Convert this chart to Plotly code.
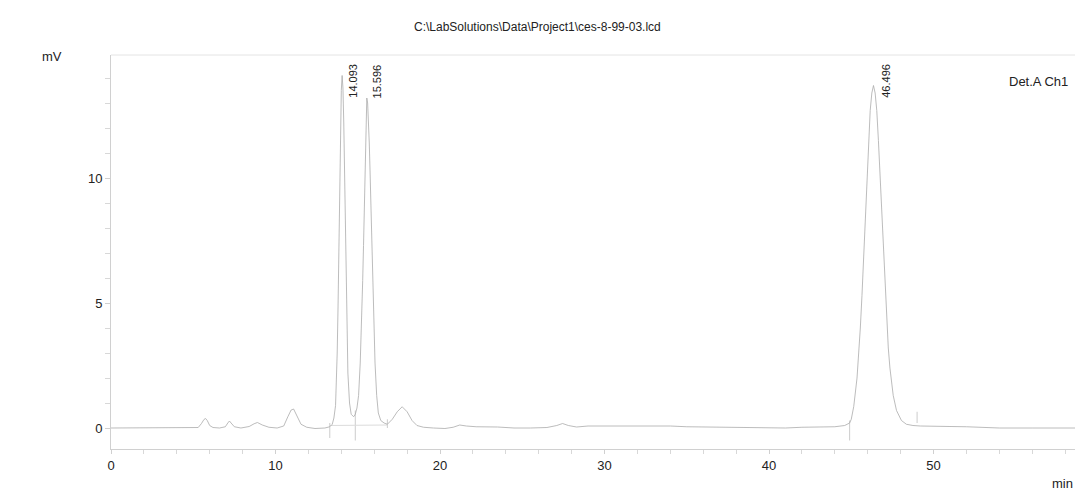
import plotly.graph_objects as go

# chromatogram trace (time in min, signal in mV)
time_min = [
    0.0, 2.0, 4.0, 5.3, 5.5, 5.65, 5.75, 5.85, 6.0, 6.2, 6.6, 6.95, 7.1, 7.2, 7.3, 7.5, 7.9,
    8.4, 8.7, 8.9, 9.2, 9.6, 10.1, 10.5, 10.75, 10.95, 11.1, 11.3, 11.55, 11.9, 12.4, 13.0,
    13.3, 13.45, 13.55, 13.65, 13.7, 13.75, 13.8, 13.85, 13.9, 13.95, 14.0, 14.05, 14.1,
    14.15, 14.2, 14.25, 14.3, 14.35, 14.4, 14.5, 14.6, 14.75, 14.85,
    14.95, 15.05, 15.15, 15.2, 15.25, 15.3, 15.35, 15.4, 15.45, 15.5, 15.55, 15.6, 15.65,
    15.7, 15.75, 15.8, 15.85, 15.9, 15.95, 16.05, 16.15, 16.25, 16.4, 16.6, 16.8,
    17.1, 17.4, 17.7, 18.0, 18.3, 18.6, 19.0, 19.6, 20.3, 20.8, 21.2, 21.6, 22.2, 23.5,
    24.5, 25.5, 26.5, 27.1, 27.45, 27.8, 28.3, 29.0, 30.0, 31.0, 32.0, 33.0, 34.0, 35.0,
    36.0, 37.0, 38.0, 39.0, 40.0, 41.0, 42.0, 43.0, 44.0, 44.6, 44.9,
    45.0, 45.15, 45.35, 45.45, 45.55, 45.65, 45.75, 45.85, 45.95, 46.05, 46.15, 46.25,
    46.35, 46.45, 46.55, 46.65, 46.75, 46.85, 46.95, 47.05, 47.15, 47.25, 47.35, 47.55,
    47.75, 48.05, 48.35, 48.75, 49.2, 50.0, 51.0, 52.0, 53.0, 54.0, 56.0, 58.6,
]
signal_mv = [
    0.0, 0.0, 0.01, 0.02, 0.18, 0.34, 0.38, 0.3, 0.1, 0.02, 0.0, 0.05, 0.2, 0.28, 0.2, 0.05, 0.0,
    0.06, 0.17, 0.22, 0.12, 0.03, 0.0, 0.08, 0.45, 0.72, 0.76, 0.5, 0.15, 0.03, -0.02, 0.0,
    0.05, 0.15, 0.4, 0.9, 1.7, 3.0, 4.8, 7.1, 9.6, 11.9, 13.5, 14.1, 13.6,
    12.2, 10.0, 7.6, 5.3, 3.5, 2.2, 1.0, 0.55, 0.45, 0.55,
    0.8, 1.3, 2.6, 3.5, 4.6, 5.9, 7.3, 8.8, 10.9, 12.4, 13.2, 13.0, 12.4,
    11.4, 10.2, 8.8, 7.3, 5.9, 4.6, 2.6, 1.3, 0.6, 0.3, 0.2, 0.15,
    0.35, 0.65, 0.85, 0.65, 0.3, 0.1, 0.03, 0.0, -0.02, 0.03, 0.12, 0.08, 0.05, 0.04,
    0.0, 0.0, 0.02, 0.1, 0.18, 0.1, 0.04, 0.08, 0.08, 0.1, 0.08, 0.07, 0.08, 0.05,
    0.04, 0.04, 0.03, 0.02, 0.0, 0.0, 0.03, 0.04, 0.05, 0.1, 0.2,
    0.35, 0.86, 2.0, 2.9, 4.0, 5.3, 6.9, 8.5, 10.1, 11.5, 12.7, 13.4,
    13.7, 13.4, 12.7, 11.5, 10.1, 8.5, 6.9, 5.4, 4.2, 3.2, 2.4, 1.3,
    0.7, 0.3, 0.15, 0.1, 0.08, 0.06, 0.06, 0.05, 0.02, 0.0, 0.0, 0.0,
]

# peak retention times (labels)
peak_rt = [14.093, 15.596, 46.496]

# integration marks (start, end of each short stroke)
mark_t = [13.3, 14.85, 16.8, 44.9, 49.0]
mark_lo = [-0.4, -0.5, 0.0, -0.5, 0.2]
mark_hi = [0.2, 0.7, 0.35, 0.3, 0.65]
# integration baseline
base_t = [13.3, 16.8]
base_mv = [0.1, 0.12]

FONT = 'Liberation Sans, Arial, sans-serif'

fig = go.Figure()

mx, my = [], []
for t, lo, hi in zip(mark_t, mark_lo, mark_hi):
    mx += [t, t, None]
    my += [lo, hi, None]
fig.add_trace(go.Scatter(x=mx, y=my, mode='lines', line=dict(color='#cccccc', width=1),
                         hoverinfo='skip', showlegend=False))
fig.add_trace(go.Scatter(x=base_t, y=base_mv, mode='lines', line=dict(color='#dcdcdc', width=1),
                         hoverinfo='skip', showlegend=False))
fig.add_trace(go.Scatter(x=time_min, y=signal_mv, mode='lines',
                         line=dict(color='#ababab', width=0.8), showlegend=False))

for rt in peak_rt:
    fig.add_annotation(x=rt + 0.6, y=14.64, xref='x', yref='y', text=f'{rt:.3f}',
                       textangle=-90, showarrow=False, yanchor='top', xanchor='center',
                       font=dict(family=FONT, size=11, color='#222'))

fig.add_annotation(x=0.442, y=1.094, xref='paper', yref='paper',
                   text='C:\\LabSolutions\\Data\\Project1\\ces-8-99-03.lcd', showarrow=False,
                   font=dict(family=FONT, size=12, color='#222'))
fig.add_annotation(x=-0.0737, y=1.02, xref='paper', yref='paper', text='mV', showarrow=False,
                   font=dict(family=FONT, size=13, color='#222'))
fig.add_annotation(x=1.0, y=-0.112, xref='paper', yref='paper', text='min', showarrow=False,
                   xanchor='right', font=dict(family=FONT, size=13, color='#222'))
fig.add_annotation(x=0.995, y=0.957, xref='paper', yref='paper', text='Det.A Ch1',
                   showarrow=False, xanchor='right',
                   font=dict(family=FONT, size=13, color='#222'))

fig.add_shape(type='line', xref='paper', yref='paper', x0=0, x1=1, y0=1, y1=1,
              line=dict(color='#e4e4e4', width=1))

fig.update_layout(
    width=1075, height=503,
    margin=dict(l=111, r=0, t=55, b=54),
    paper_bgcolor='white', plot_bgcolor='white',
    font=dict(family=FONT, size=13, color='#222'),
    xaxis=dict(range=[0, 58.6], showgrid=False, zeroline=False, showline=True,
               linecolor='#d0d0d0', linewidth=1, ticks='outside', ticklen=4,
               tickcolor='#d0d0d0', tick0=0, dtick=10,
               minor=dict(dtick=2, ticks='outside', ticklen=4, tickcolor='#d8d8d8')),
    yaxis=dict(range=[-0.84, 14.92], showgrid=False, zeroline=False, showline=True,
               linecolor='#d0d0d0', linewidth=1, ticks='outside', ticklen=5,
               tickcolor='#d0d0d0', tick0=0, dtick=5,
               minor=dict(dtick=1, ticks='outside', ticklen=5, tickcolor='#d8d8d8')),
)

fig.write_html('out.html', config={'displayModeBar': False},
               post_script="document.body.style.margin='0';")
